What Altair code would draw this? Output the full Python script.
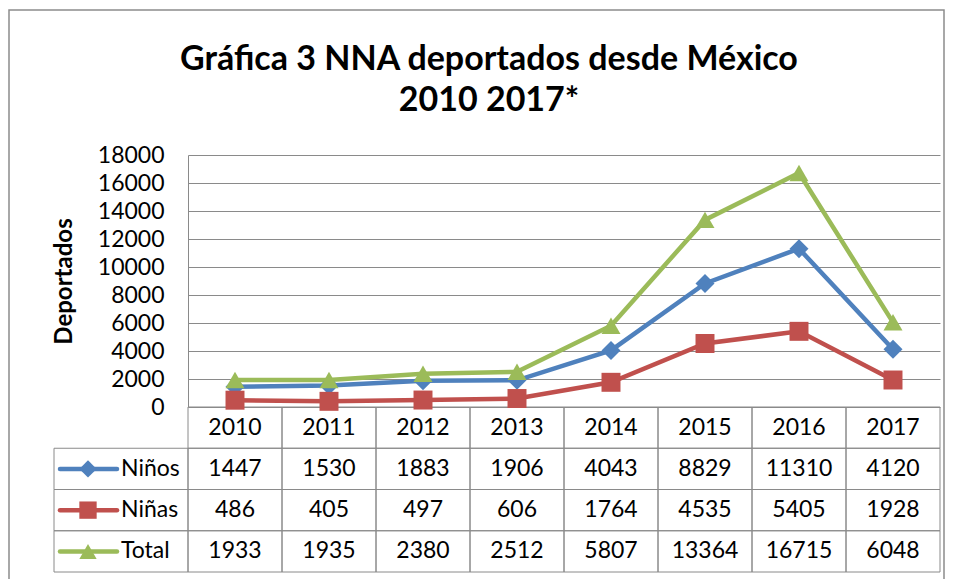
import altair as alt
import pandas as pd

# ---------------- data ----------------
years = ["2010", "2011", "2012", "2013", "2014", "2015", "2016", "2017"]
series_names = ["Niños", "Niñas", "Total"]
ninos = [1447, 1530, 1883, 1906, 4043, 8829, 11310, 4120]
ninas = [486, 405, 497, 606, 1764, 4535, 5405, 1928]
total = [1933, 1935, 2380, 2512, 5807, 13364, 16715, 6048]
y_ticks = [0, 2000, 4000, 6000, 8000, 10000, 12000, 14000, 16000, 18000]
title_lines = ["Gráfica 3 NNA deportados desde México", "2010 2017*"]
y_title = "Deportados"

# ---------------- style / layout ----------------
colors = ["#4F81BD", "#C0504D", "#9BBB59"]
shapes = ["diamond", "square", "triangle-up"]
FONT = "Lato"
GRID = "#8A8A8A"
W, H = 752, 252
TABLE_BOTTOM = 417
LEG_W = 134

long = pd.DataFrame(
    [
        {"year": y, "series": s, "value": v}
        for s, vals in zip(series_names, [ninos, ninas, total])
        for y, v in zip(years, vals)
    ]
)
rows = ["hdr"] + series_names
cells = pd.DataFrame(
    [{"year": y, "row": "hdr", "label": y} for y in years]
    + [
        {"year": y, "row": s, "label": str(v)}
        for s, vals in zip(series_names, [ninos, ninas, total])
        for y, v in zip(years, vals)
    ]
)
legend_df = pd.DataFrame({"row": series_names, "series": series_names, "col": ["leg"] * 3})
title_df = pd.DataFrame({"t": ["\n".join(title_lines)]})
one = pd.DataFrame({"a": [0]})

color_scale = alt.Scale(domain=series_names, range=colors)
shape_scale = alt.Scale(domain=series_names, range=shapes)

x_pt = alt.X("year:O", scale=alt.Scale(type="point", domain=years, padding=0.5), axis=None)
y_val = alt.Y(
    "value:Q",
    scale=alt.Scale(domain=[0, 18000]),
    axis=alt.Axis(
        values=y_ticks, title=y_title, grid=True, gridColor=GRID, gridWidth=1,
        domainColor=GRID, domainWidth=1, ticks=False, labelPadding=24,
        labelFontSize=23, labelFont=FONT, labelColor="black", format="d",
        titleFont=FONT, titleFontSize=24, titleFontWeight="bold", titleColor="black",
        titlePadding=21,
    ),
)
band_x_scale = alt.Scale(type="band", domain=years, paddingInner=0, paddingOuter=0)
row_scale = alt.Scale(type="band", domain=rows, range=[H, TABLE_BOTTOM], paddingInner=0, paddingOuter=0)
leg_x_scale = alt.Scale(type="band", domain=["leg"], range=[-LEG_W, 0], paddingInner=0, paddingOuter=0)

frame = alt.Chart(one).mark_rect(fillOpacity=0, stroke="#8C8C8C", strokeWidth=1.5).encode(
    x=alt.value(-179), x2=alt.value(756), y=alt.value(-145), y2=alt.value(440)
)

title = alt.Chart(title_df).mark_text(
    font=FONT, fontSize=34, fontWeight="bold", lineBreak="\n", align="center",
    baseline="alphabetic", lineHeight=41, color="black",
).encode(x=alt.value(301), y=alt.value(-85), text="t:N")

cell_rect = alt.Chart(cells).mark_rect(fillOpacity=0, stroke=GRID, strokeWidth=1).encode(
    x=alt.X("year:O", scale=band_x_scale, axis=None),
    y=alt.Y("row:N", scale=row_scale, axis=None),
)
cell_text = alt.Chart(cells).mark_text(font=FONT, fontSize=23, color="black", baseline="middle").encode(
    x=alt.X("year:O", scale=band_x_scale, axis=None, bandPosition=0.5),
    y=alt.Y("row:N", scale=row_scale, axis=None, bandPosition=0.5),
    text="label:N",
)

leg_rect = alt.Chart(legend_df).mark_rect(fillOpacity=0, stroke=GRID, strokeWidth=1).encode(
    x=alt.X("col:N", scale=leg_x_scale, axis=None),
    y=alt.Y("row:N", scale=row_scale, axis=None),
)
leg_line = alt.Chart(legend_df).mark_rule(strokeWidth=4.5, strokeCap="round").encode(
    x=alt.value(-128), x2=alt.value(-71),
    y=alt.Y("row:N", scale=row_scale, axis=None, bandPosition=0.5),
    color=alt.Color("series:N", scale=color_scale, legend=None),
)
leg_pt = alt.Chart(legend_df).mark_point(filled=True, size=300, opacity=1).encode(
    x=alt.value(-100),
    y=alt.Y("row:N", scale=row_scale, axis=None, bandPosition=0.5),
    color=alt.Color("series:N", scale=color_scale, legend=None),
    shape=alt.Shape("series:N", scale=shape_scale, legend=None),
)
leg_text = alt.Chart(legend_df).mark_text(font=FONT, fontSize=23, color="black", align="left", baseline="middle").encode(
    x=alt.value(-67),
    y=alt.Y("row:N", scale=row_scale, axis=None, bandPosition=0.5),
    text="series:N",
)

lines = alt.Chart(long).mark_line(strokeWidth=4.5).encode(
    x=x_pt, y=y_val,
    color=alt.Color("series:N", scale=color_scale, legend=None),
)
points = alt.Chart(long).mark_point(filled=True, size=360, opacity=1).encode(
    x=x_pt,
    y=alt.Y("value:Q", scale=alt.Scale(domain=[0, 18000]), axis=None),
    color=alt.Color("series:N", scale=color_scale, legend=None),
    shape=alt.Shape("series:N", scale=shape_scale, legend=None),
)

chart = (
    alt.layer(frame, title, cell_rect, leg_rect, lines, points, cell_text, leg_line, leg_pt, leg_text)
    .resolve_scale(x="independent", y="independent")
    .properties(width=W, height=H, padding={"left": 0, "top": 1, "right": 0, "bottom": 0}, background="white")
    .configure_view(stroke="transparent")
)

chart.save("out.html", embed_options={"renderer": "svg", "actions": False})
